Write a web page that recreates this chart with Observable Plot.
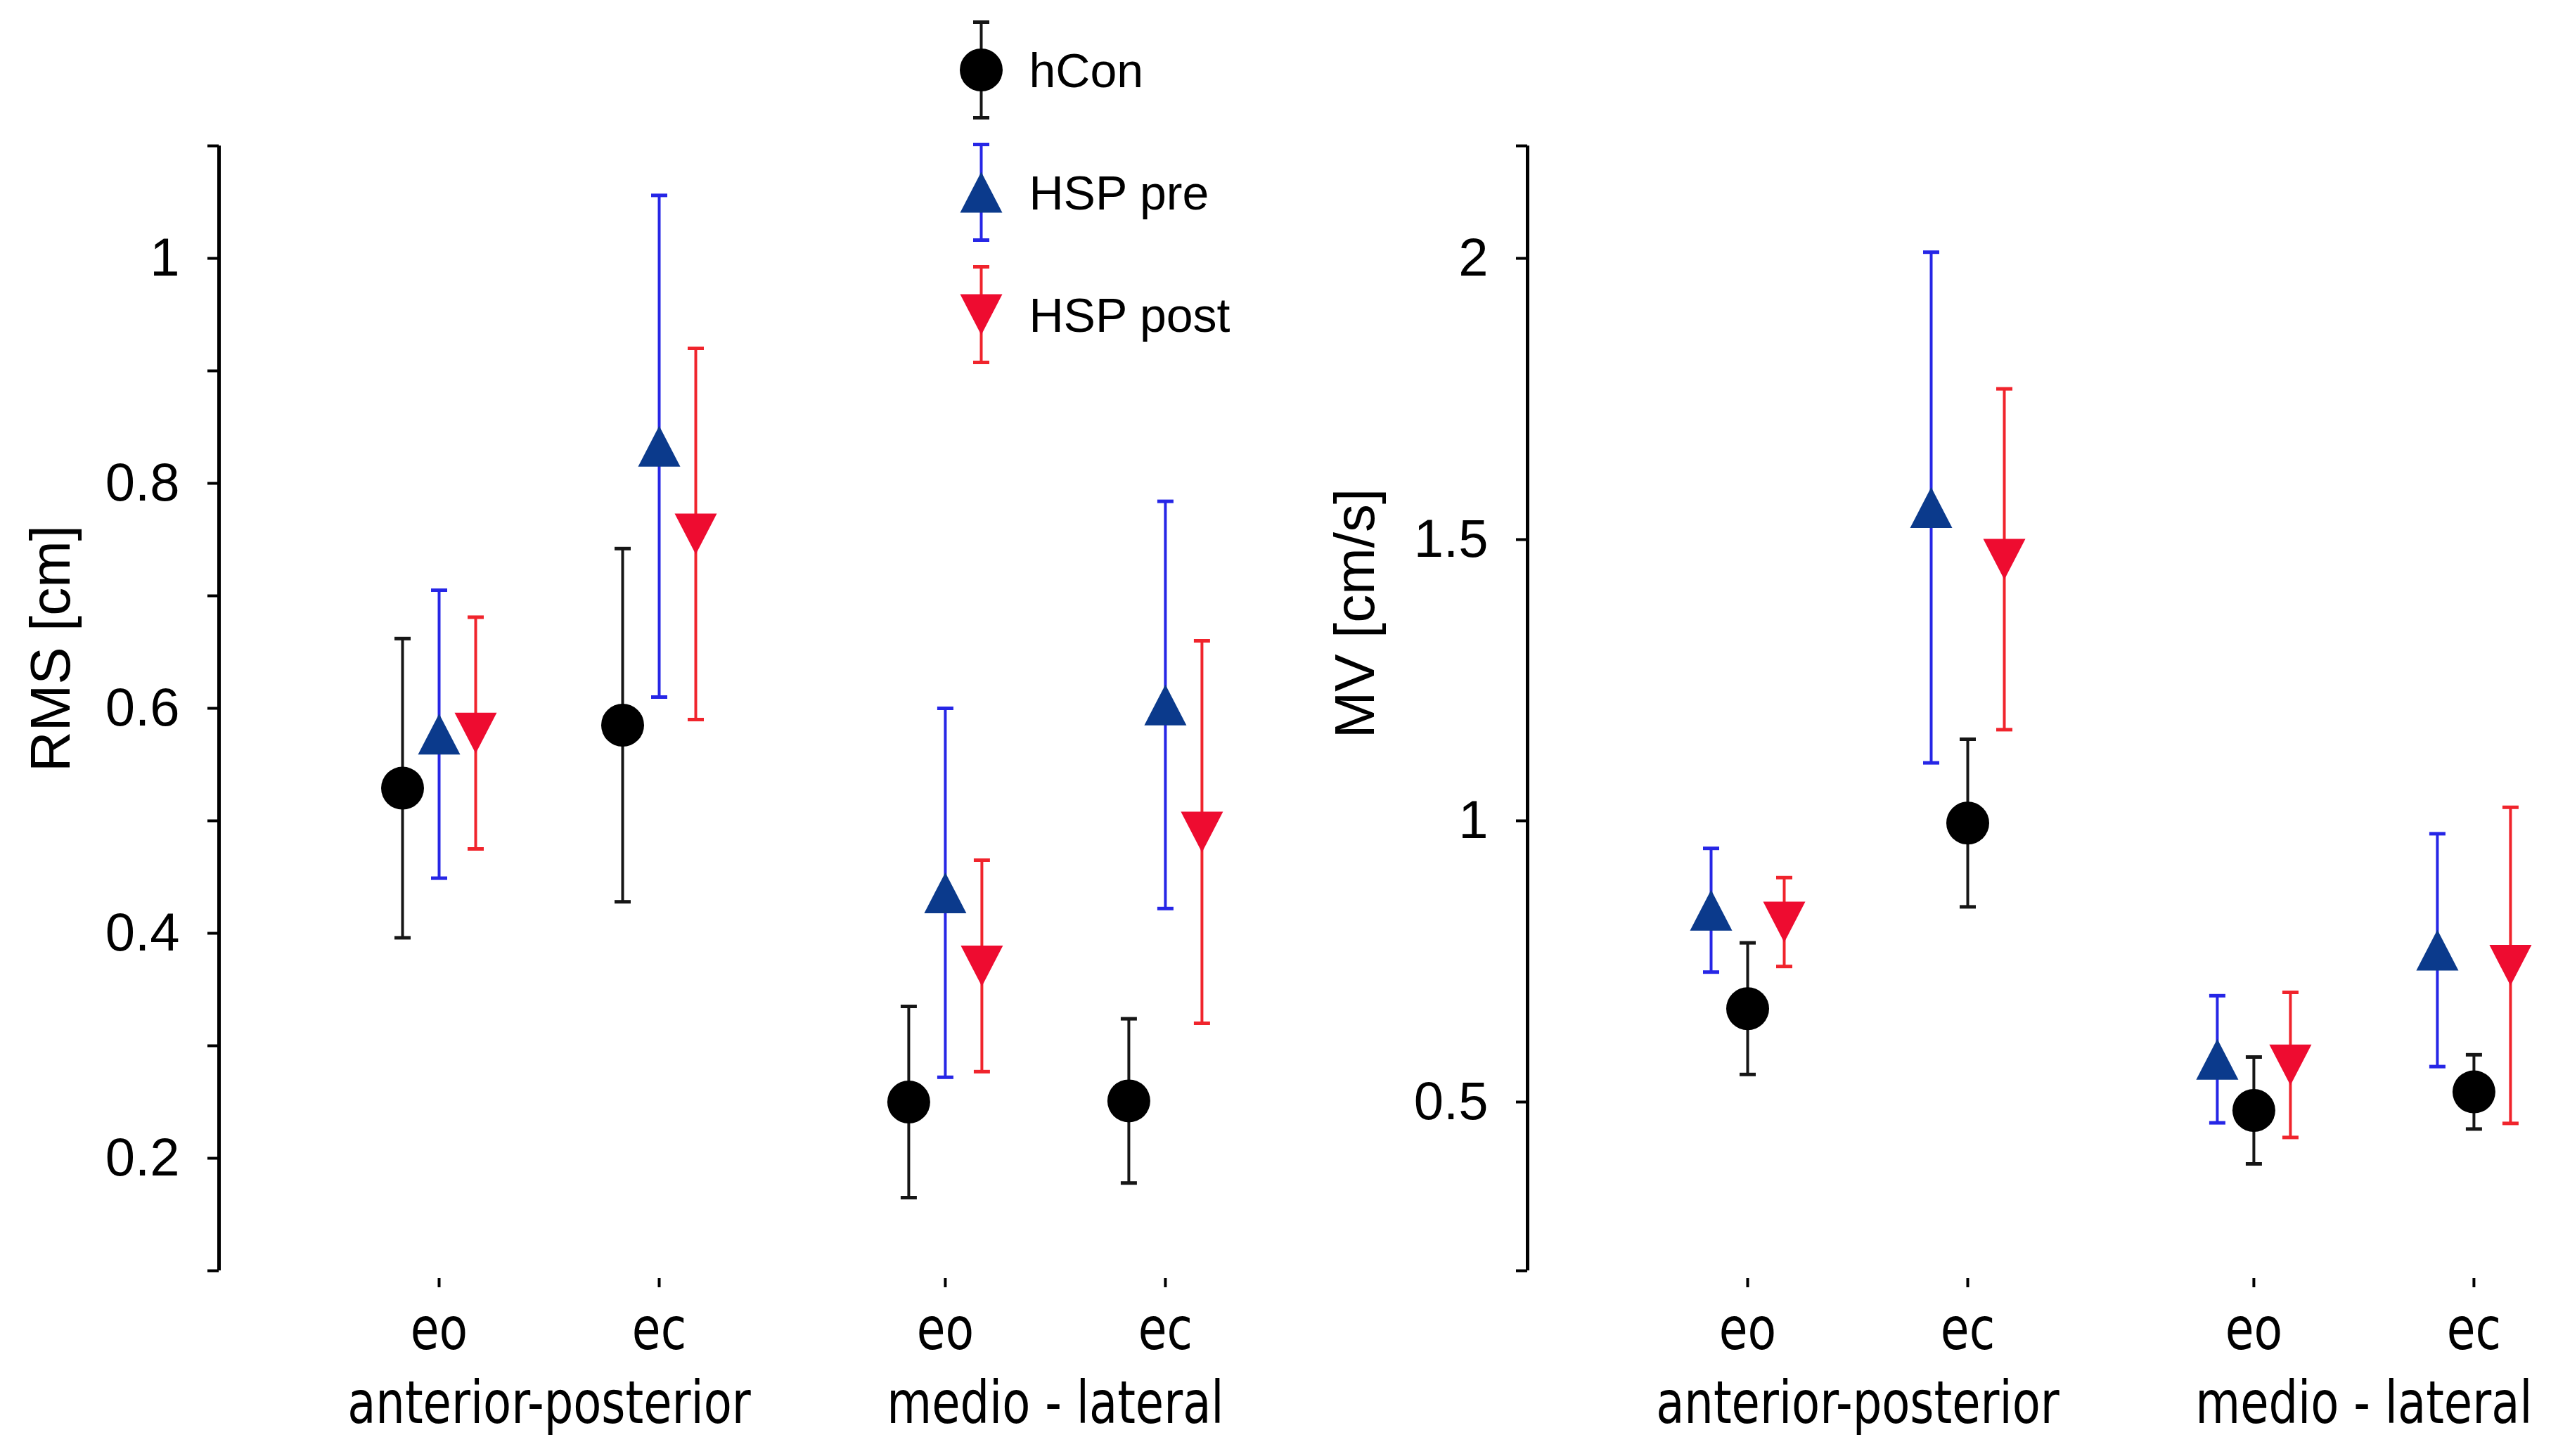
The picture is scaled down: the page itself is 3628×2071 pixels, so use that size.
<!DOCTYPE html>
<html>
<head>
<meta charset="utf-8">
<script src="https://cdn.jsdelivr.net/npm/d3@7"></script>
<script src="https://cdn.jsdelivr.net/npm/@observablehq/plot@0.6"></script>
<style>
  html, body { margin: 0; padding: 0; background: #fff; }
  #page { position: relative; width: 3628px; height: 2071px; overflow: hidden; background: #fff; }
  .panel { position: absolute; top: 0; }
</style>
</head>
<body>
<div id="page"></div>
<script>
// ---------------- data ----------------
const directions = ["anterior-posterior", "medio - lateral"];
const conditions = ["eo", "ec"];
const groups = ["hCon", "HSP pre", "HSP post"];

// value order: AP-eo, AP-ec, ML-eo, ML-ec   (mean and ± error)
const rmsHConMean = [0.529, 0.585, 0.250, 0.251];
const rmsHConErr  = [0.133, 0.157, 0.085, 0.073];
const rmsPreMean  = [0.577, 0.833, 0.436, 0.603];
const rmsPreErr   = [0.128, 0.223, 0.164, 0.181];
const rmsPostMean = [0.578, 0.755, 0.371, 0.490];
const rmsPostErr  = [0.103, 0.165, 0.094, 0.170];

const mvHConMean = [0.666, 0.996, 0.485, 0.518];
const mvHConErr  = [0.117, 0.149, 0.095, 0.066];
const mvPreMean  = [0.841, 1.557, 0.576, 0.770];
const mvPreErr   = [0.110, 0.454, 0.113, 0.207];
const mvPostMean = [0.820, 1.465, 0.566, 0.743];
const mvPostErr  = [0.079, 0.303, 0.129, 0.281];

const rmsTicks = [0.1, 0.2, 0.3, 0.4, 0.5, 0.6, 0.7, 0.8, 0.9, 1, 1.1];
const rmsTickLabels = [0.2, 0.4, 0.6, 0.8, 1];
const mvTicks = [0.2, 0.5, 1, 1.5, 2, 2.2];
const mvTickLabels = [0.5, 1, 1.5, 2];

const rmsTitle = "RMS [cm]";
const mvTitle = "MV [cm/s]";

// ---------------- styles ----------------
const triUp = {draw(ctx) { ctx.moveTo(0, -29); ctx.lineTo(30, 29); ctx.lineTo(-30, 29); ctx.closePath(); }};
const triDown = {draw(ctx) { ctx.moveTo(0, 29); ctx.lineTo(30, -29); ctx.lineTo(-30, -29); ctx.closePath(); }};
const capSym = {draw(ctx) { ctx.moveTo(-11.5, 0); ctx.lineTo(11.5, 0); }};
const vbarSym = {draw(ctx) { ctx.moveTo(0, -68); ctx.lineTo(0, 68); }};

const seriesStyle = {
  "hCon":     {symbol: "circle", r: 30.5, fill: "#000000", bar: "#161616"},
  "HSP pre":  {symbol: triUp,   r: 25,   fill: "#0b3a8c", bar: "#2626e6"},
  "HSP post": {symbol: triDown, r: 25,   fill: "#ee0c30", bar: "#f0242c"}
};

const FONT_NUM = "Liberation Sans, Arial, sans-serif";
const FONT_CAT = "DejaVu Sans, Verdana, sans-serif";
const UNIT = 313;          // px per x unit
const GROUP_GAP = 2.3;     // x units between direction groups
const posOf = (di, ci) => 1 + di * GROUP_GAP + ci;

function buildRows(means, errs) {
  return directions.flatMap((dir, di) => conditions.map((cond, ci) => {
    const k = di * conditions.length + ci;
    return {dir, cond, pos: posOf(di, ci), mean: means[k], lo: means[k] - errs[k], hi: means[k] + errs[k]};
  }));
}

function squeezeX(svg, k) {
  svg.querySelectorAll('g[aria-label="x-axis tick label"] text').forEach(t => {
    t.setAttribute("transform", (t.getAttribute("transform") || "") + ` scale(${k},1)`);
  });
}

function makePanel({series, offsets, yDomain, yTicks, yLabelTicks, title, width, marginLeft, titleDx, titleDy}) {
  const condTicks = [], condLabel = new Map(), dirTicks = [], dirLabel = new Map();
  directions.forEach((dir, di) => {
    conditions.forEach((c, ci) => { const p = posOf(di, ci); condTicks.push(p); condLabel.set(p, c); });
    const mid = (posOf(di, 0) + posOf(di, conditions.length - 1)) / 2;
    dirTicks.push(mid); dirLabel.set(mid, dir);
  });

  const marks = [
    Plot.ruleX([0], {stroke: "#000", strokeWidth: 5}),
    Plot.axisY({ticks: yTicks, tickFormat: d => yLabelTicks.includes(d) ? String(d) : "",
      tickSize: 16, tickPadding: 40, strokeWidth: 4, fontSize: 76, fontFamily: FONT_NUM,
      color: "#000", label: null}),
    Plot.axisX({ticks: condTicks, tickFormat: d => condLabel.get(d) ?? "",
      tickSize: 13, tickPadding: 28, dy: 11, strokeWidth: 4, fontSize: 84, fontFamily: FONT_CAT,
      color: "#000", label: null}),
    Plot.axisX({ticks: dirTicks, tickFormat: d => dirLabel.get(d) ?? "",
      tickSize: 0, tickPadding: 158, fontSize: 83, fontFamily: FONT_CAT,
      color: "#000", label: null}),
    Plot.text([title], {frameAnchor: "left", textAnchor: "middle", lineAnchor: "middle", rotate: -90,
      dx: titleDx, dy: titleDy, fontSize: 80, fontFamily: FONT_NUM, fill: "#000"})
  ];

  groups.forEach((g, gi) => {
    const st = seriesStyle[g];
    const rows = buildRows(series[gi][0], series[gi][1]);
    const dx = offsets[g];
    marks.push(
      Plot.ruleX(rows, {x: "pos", y1: "lo", y2: "hi", dx, stroke: st.bar, strokeWidth: 4}),
      Plot.dot(rows, {x: "pos", y: "lo", dx, symbol: capSym, r: 10, stroke: st.bar, strokeWidth: 5, fill: "none"}),
      Plot.dot(rows, {x: "pos", y: "hi", dx, symbol: capSym, r: 10, stroke: st.bar, strokeWidth: 5, fill: "none"})
    );
  });
  groups.forEach((g, gi) => {
    const st = seriesStyle[g];
    const rows = buildRows(series[gi][0], series[gi][1]);
    marks.push(Plot.dot(rows, {x: "pos", y: "mean", dx: offsets[g], symbol: st.symbol, r: st.r,
      fill: st.fill, stroke: "none"}));
  });

  const svg = Plot.plot({
    width, height: 2071,
    marginTop: 207, marginBottom: 264, marginLeft, marginRight: 0,
    style: {background: "transparent", maxWidth: "none", overflow: "visible"},
    x: {type: "linear", domain: [0, 5], range: [marginLeft, marginLeft + 5 * UNIT]},
    y: {type: "linear", domain: yDomain, range: [1807, 207]},
    marks
  });
  squeezeX(svg, 0.79);
  return svg;
}

const page = document.getElementById("page");

function place(node, left, top, w, h) {
  const div = document.createElement("div");
  div.className = "panel";
  div.style.left = left + "px";
  div.style.top = top + "px";
  div.style.width = w + "px";
  div.style.height = h + "px";
  div.appendChild(node);
  page.appendChild(div);
}

const left = makePanel({
  series: [[rmsHConMean, rmsHConErr], [rmsPreMean, rmsPreErr], [rmsPostMean, rmsPostErr]],
  offsets: {"hCon": -52, "HSP pre": 0, "HSP post": 52},
  yDomain: [0.1, 1.1], yTicks: rmsTicks, yLabelTicks: rmsTickLabels, title: rmsTitle,
  width: 1800, marginLeft: 311, titleDx: -238, titleDy: -85
});
place(left, 0, 0, 1800, 2071);

const right = makePanel({
  series: [[mvHConMean, mvHConErr], [mvPreMean, mvPreErr], [mvPostMean, mvPostErr]],
  offsets: {"HSP pre": -52, "hCon": 0, "HSP post": 52},
  yDomain: [0.2, 2.2], yTicks: mvTicks, yLabelTicks: mvTickLabels, title: mvTitle,
  width: 1828, marginLeft: 372, titleDx: -244, titleDy: -135
});
place(right, 1800, 0, 1828, 2071);

// ---------------- legend ----------------
const legendMarks = [];
groups.forEach(g => {
  const st = seriesStyle[g];
  legendMarks.push(
    Plot.dot([g], {y: d => d, frameAnchor: "left", symbol: vbarSym, r: 10, stroke: st.bar, strokeWidth: 4, fill: "none"}),
    Plot.dot([g], {y: d => d, frameAnchor: "left", dy: -68, symbol: capSym, r: 10, stroke: st.bar, strokeWidth: 5, fill: "none"}),
    Plot.dot([g], {y: d => d, frameAnchor: "left", dy: 68, symbol: capSym, r: 10, stroke: st.bar, strokeWidth: 5, fill: "none"}),
    Plot.dot([g], {y: d => d, frameAnchor: "left", symbol: st.symbol, r: st.r, fill: st.fill, stroke: "none"})
  );
});
legendMarks.push(Plot.text(groups, {y: d => d, text: d => d, frameAnchor: "left", textAnchor: "start",
  dx: 68, dy: 3, fontSize: 68, fontFamily: FONT_NUM, fill: "#000"}));

const legend = Plot.plot({
  width: 460, height: 540,
  marginTop: 0, marginBottom: 0, marginLeft: 55, marginRight: 0,
  style: {background: "transparent", maxWidth: "none", overflow: "visible"},
  y: {type: "point", domain: groups, range: [98, 447], padding: 0, axis: null},
  marks: legendMarks
});
place(legend, 1340, 0, 460, 540);
</script>
</body>
</html>
